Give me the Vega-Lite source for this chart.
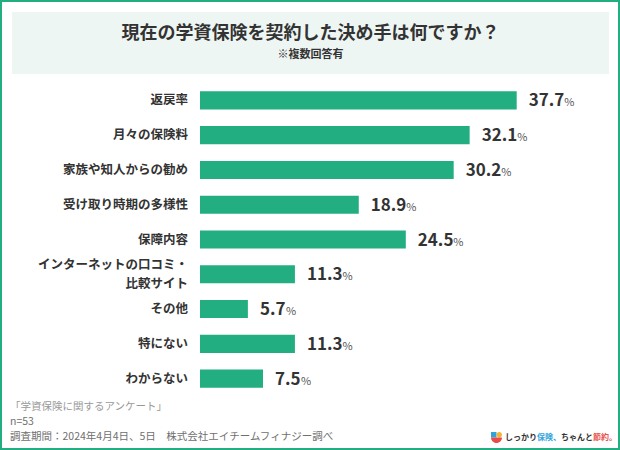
{
  "$schema": "https://vega.github.io/schema/vega-lite/v6.json",
  "background": "#22ae80",
  "padding": 2,
  "config": {
    "view": {"stroke": null, "fill": "white"},
    "concat": {"spacing": 0},
    "font": "Noto Sans CJK JP",
    "text": {"font": "Noto Sans CJK JP"}
  },
  "datasets": {
    "survey": [
      {"item": "返戻率", "pct": 37.7},
      {"item": "月々の保険料", "pct": 32.1},
      {"item": "家族や知人からの勧め", "pct": 30.2},
      {"item": "受け取り時期の多様性", "pct": 18.9},
      {"item": "保障内容", "pct": 24.5},
      {"item": "インターネットの口コミ・比較サイト", "pct": 11.3},
      {"item": "その他", "pct": 5.7},
      {"item": "特にない", "pct": 11.3},
      {"item": "わからない", "pct": 7.5}
    ],
    "blank": [{}],
    "heading": [{"title": "現在の学資保険を契約した決め手は何ですか？", "note": "※複数回答有"}],
    "footer": [
      {"line": 1, "text": "「学資保険に関するアンケート」"},
      {"line": 2, "text": " n=53"},
      {"line": 3, "text": "調査期間：2024年4月4日、5日　株式会社エイチームフィナジー調べ"}
    ],
    "logo": [{"a": "しっかり", "b": "保険、", "c": "ちゃんと", "d": "節約。"}]
  },
  "bounds": "full",
  "spacing": 0,
  "vconcat": [
    {
      "bounds": "full",
      "spacing": 0,
      "vconcat": [
        {"width": 616, "height": 10, "data": {"name": "blank"}, "mark": {"type": "rect", "fill": "white"}},
        {
          "bounds": "full",
          "spacing": 0,
          "hconcat": [
            {"width": 10, "height": 62, "data": {"name": "blank"}, "mark": {"type": "rect", "fill": "white"}},
            {
              "width": 597,
              "height": 62,
              "view": {"fill": "#eef6f3", "stroke": null},
              "data": {"name": "heading"},
              "layer": [
                {"mark": {"type": "text", "fontSize": 18, "fontWeight": "bold", "color": "#333333", "dy": -9.5, "baseline": "middle"}, "encoding": {"text": {"field": "title"}}},
                {"mark": {"type": "text", "fontSize": 11, "fontWeight": "bold", "color": "#333333", "dy": 12.3, "baseline": "middle"}, "encoding": {"text": {"field": "note"}}}
              ]
            },
            {"width": 9, "height": 62, "data": {"name": "blank"}, "mark": {"type": "rect", "fill": "white"}}
          ]
        },
        {"width": 616, "height": 9, "data": {"name": "blank"}, "mark": {"type": "rect", "fill": "white"}}
      ]
    },
    {
      "bounds": "flush",
      "spacing": 0,
      "hconcat": [
        {"width": 198, "height": 313, "data": {"name": "blank"}, "mark": {"type": "rect", "fill": "white"}},
        {
          "width": 418,
          "height": 313,
          "data": {"name": "survey"},
          "encoding": {
            "y": {"field": "item", "type": "nominal", "sort": null, "axis": null, "scale": {"paddingInner": 0.48, "paddingOuter": 0.24}}
          },
          "layer": [
            {
              "mark": {"type": "bar", "color": "#22ae80"},
              "encoding": {"x": {"field": "pct", "type": "quantitative", "axis": null, "scale": {"domain": [0, 49.76], "nice": false, "zero": true}}}
            },
            {
              "transform": [{"filter": "datum.item != 'インターネットの口コミ・比較サイト'"}],
              "mark": {"type": "text", "align": "right", "baseline": "middle", "dx": -12, "fontSize": 12.5, "fontWeight": "bold", "color": "#333333"},
              "encoding": {"x": {"datum": 0, "type": "quantitative"}, "text": {"field": "item"}}
            },
            {
              "transform": [{"filter": "datum.item == 'インターネットの口コミ・比較サイト'"}],
              "mark": {"type": "text", "text": "インターネットの口コミ・", "align": "right", "baseline": "middle", "dx": -12, "dy": -9.3, "fontSize": 12.5, "fontWeight": "bold", "color": "#333333"},
              "encoding": {"x": {"datum": 0, "type": "quantitative"}}
            },
            {
              "transform": [{"filter": "datum.item == 'インターネットの口コミ・比較サイト'"}],
              "mark": {"type": "text", "text": "比較サイト", "align": "right", "baseline": "middle", "dx": -12, "dy": 9.3, "fontSize": 12.5, "fontWeight": "bold", "color": "#333333"},
              "encoding": {"x": {"datum": 0, "type": "quantitative"}}
            },
            {
              "mark": {"type": "text", "align": "left", "baseline": "alphabetic", "dx": 12, "dy": 6, "fontSize": 17, "fontWeight": "bold", "color": "#333333"},
              "encoding": {"x": {"field": "pct", "type": "quantitative"}, "text": {"field": "pct", "type": "quantitative", "format": ".1f"}}
            },
            {
              "transform": [{"filter": "datum.pct >= 10"}],
              "mark": {"type": "text", "text": "%", "align": "left", "baseline": "alphabetic", "dx": 47.5, "dy": 6, "fontSize": 11, "color": "#555555"},
              "encoding": {"x": {"field": "pct", "type": "quantitative"}}
            },
            {
              "transform": [{"filter": "datum.pct < 10"}],
              "mark": {"type": "text", "text": "%", "align": "left", "baseline": "alphabetic", "dx": 38, "dy": 6, "fontSize": 11, "color": "#555555"},
              "encoding": {"x": {"field": "pct", "type": "quantitative"}}
            }
          ]
        }
      ]
    },
    {
      "bounds": "full",
      "spacing": 0,
      "hconcat": [
        {
          "width": 479,
          "height": 52,
          "data": {"name": "footer"},
          "mark": {"type": "text", "align": "left", "baseline": "middle", "dx": 8, "fontSize": 10.5},
          "encoding": {
            "x": {"datum": 0, "type": "quantitative", "axis": null, "scale": {"domain": [0, 1]}},
            "y": {"field": "line", "type": "ordinal", "axis": null, "scale": {"type": "point", "padding": 0.68}},
            "text": {"field": "text"},
            "color": {"condition": {"test": "datum.line == 1", "value": "#999999"}, "value": "#707070"}
          }
        },
        {
          "bounds": "flush",
          "spacing": 0,
          "vconcat": [
            {"width": 137, "height": 26, "data": {"name": "blank"}, "mark": {"type": "rect", "fill": "white"}},
            {
              "width": 137,
              "height": 26,
              "data": {"name": "logo"},
              "layer": [
                {"mark": {"type": "rect", "fill": "white", "x2Offset": 2, "y2Offset": 2}},
                {"mark": {"type": "point", "filled": true, "opacity": 1, "strokeWidth": 0, "size": 400, "color": "#2fa3dc", "shape": "M-5.85,-0.3H-5.3V0.25H-5.85Z"}},
                {"mark": {"type": "point", "filled": true, "opacity": 1, "strokeWidth": 0, "size": 400, "color": "#f2b531", "shape": "M-5.3,-0.025A0.275,0.275 0 1,0 -4.75,-0.025A0.275,0.275 0 1,0 -5.3,-0.025Z"}},
                {"mark": {"type": "point", "filled": true, "opacity": 1, "strokeWidth": 0, "size": 400, "color": "#e94b48", "shape": "M-5.85,0.25H-4.75A0.55,0.55 0 0,1 -5.85,0.25Z"}},
                {"mark": {"type": "text", "align": "left", "baseline": "middle", "fontSize": 8, "fontWeight": "bold", "color": "#333333", "dx": -44.5, "dy": 3}, "encoding": {"text": {"field": "a"}}},
                {"mark": {"type": "text", "align": "left", "baseline": "middle", "fontSize": 8, "fontWeight": "bold", "color": "#2fa3dc", "dx": -12.5, "dy": 3}, "encoding": {"text": {"field": "b"}}},
                {"mark": {"type": "text", "align": "left", "baseline": "middle", "fontSize": 8, "fontWeight": "bold", "color": "#333333", "dx": 11.5, "dy": 3}, "encoding": {"text": {"field": "c"}}},
                {"mark": {"type": "text", "align": "left", "baseline": "middle", "fontSize": 8, "fontWeight": "bold", "color": "#e9504c", "dx": 43.5, "dy": 3}, "encoding": {"text": {"field": "d"}}}
              ]
            }
          ]
        }
      ]
    }
  ]
}
